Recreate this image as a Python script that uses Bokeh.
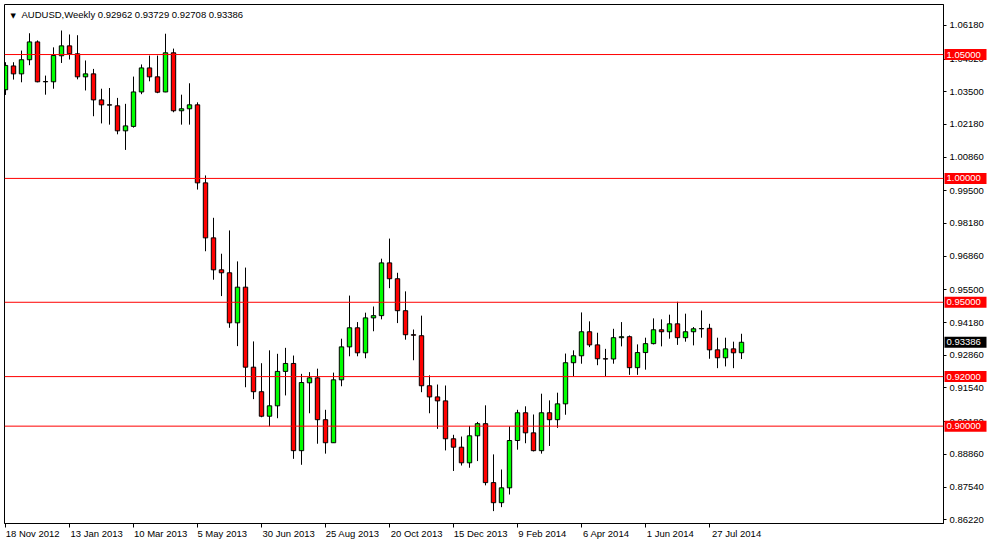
from bokeh.plotting import figure
from bokeh.models import (Range1d, LinearAxis, FixedTicker, NumeralTickFormatter,
                          Span, Label, ColumnDataSource)
from bokeh.core.properties import value
from bokeh.embed import file_html
from bokeh.resources import INLINE

# ---------------- data (AUDUSD weekly) ----------------
symbol = "AUDUSD,Weekly"
opens = [1.0358, 1.0454, 1.0422, 1.0479, 1.0551, 1.0391, 1.0390, 1.0495, 1.0535, 1.0503,
         1.0410, 1.0422, 1.0317, 1.0297, 1.0293, 1.0192, 1.0210, 1.0349, 1.0446, 1.0410,
         1.0349, 1.0507, 1.0273, 1.0281, 1.0297, 0.9982, 0.9760, 0.9631, 0.9619, 0.9417,
         0.9561, 0.9238, 0.9139, 0.9040, 0.9082, 0.9221, 0.9253, 0.8901, 0.9175, 0.9195,
         0.9026, 0.8933, 0.9187, 0.9320, 0.9397, 0.9296, 0.9437, 0.9446, 0.9659, 0.9595,
         0.9466, 0.9369, 0.9365, 0.9163, 0.9118, 0.9102, 0.8949, 0.8915, 0.8852, 0.8961,
         0.9010, 0.8772, 0.8691, 0.8751, 0.8942, 0.9054, 0.8973, 0.8901, 0.9054, 0.9026,
         0.9090, 0.9256, 0.9284, 0.9381, 0.9328, 0.9272, 0.9271, 0.9357, 0.9361, 0.9236,
         0.9297, 0.9333, 0.9389, 0.9381, 0.9413, 0.9357, 0.9381, 0.9393, 0.9395, 0.9308,
         0.9276, 0.9312, 0.92962]
highs = [1.0469, 1.0469, 1.0516, 1.0586, 1.0557, 1.0415, 1.0529, 1.0597, 1.0581, 1.0578,
         1.0476, 1.0442, 1.0362, 1.0365, 1.0325, 1.0301, 1.0411, 1.0460, 1.0496, 1.0496,
         1.0584, 1.0524, 1.0338, 1.0384, 1.0307, 1.0012, 0.9841, 0.9696, 0.9790, 0.9665,
         0.9640, 0.9342, 0.9254, 0.9306, 0.9292, 0.9316, 0.9285, 0.9211, 0.9218, 0.9232,
         0.9066, 0.9216, 0.9353, 0.9527, 0.9420, 0.9458, 0.9483, 0.9676, 0.9757, 0.9619,
         0.9544, 0.9390, 0.9446, 0.9205, 0.9168, 0.9164, 0.8965, 0.8958, 0.9001, 0.9017,
         0.9084, 0.8886, 0.8825, 0.8999, 0.9066, 0.9080, 0.9047, 0.9131, 0.9104, 0.9135,
         0.9293, 0.9306, 0.9459, 0.9423, 0.9377, 0.9312, 0.9393, 0.9420, 0.9366, 0.9330,
         0.9357, 0.9435, 0.9431, 0.9450, 0.9502, 0.9454, 0.9400, 0.9467, 0.9413, 0.9357,
         0.9357, 0.9341, 0.93729]
lows = [1.0337, 1.0399, 1.0388, 1.0457, 1.0388, 1.0338, 1.0362, 1.0466, 1.0480, 1.0400,
        1.0355, 1.0251, 1.0222, 1.0217, 1.0178, 1.0115, 1.0205, 1.0340, 1.0392, 1.0344,
        1.0348, 1.0267, 1.0217, 1.0217, 0.9955, 0.9706, 0.9591, 0.9525, 0.9397, 0.9323,
        0.9157, 0.9109, 0.9036, 0.8999, 0.9032, 0.9124, 0.8868, 0.8844, 0.9052, 0.8929,
        0.8889, 0.8932, 0.9161, 0.9282, 0.9282, 0.9274, 0.9383, 0.9431, 0.9557, 0.9416,
        0.9349, 0.9266, 0.9137, 0.9052, 0.8989, 0.8902, 0.8819, 0.8841, 0.8832, 0.8859,
        0.8761, 0.8657, 0.8673, 0.8724, 0.8905, 0.8931, 0.8898, 0.8889, 0.8920, 0.8993,
        0.9046, 0.9201, 0.9252, 0.9319, 0.9246, 0.9201, 0.9252, 0.9322, 0.9207, 0.9207,
        0.9228, 0.9330, 0.9322, 0.9353, 0.9328, 0.9341, 0.9326, 0.9357, 0.9272, 0.9234,
        0.9241, 0.9234, 0.92708]
closes = [1.0456, 1.0422, 1.0479, 1.0551, 1.0390, 1.0390, 1.0496, 1.0535, 1.0503, 1.0410,
          1.0422, 1.0317, 1.0297, 1.0296, 1.0192, 1.0212, 1.0349, 1.0446, 1.0410, 1.0348,
          1.0507, 1.0273, 1.0281, 1.0297, 0.9982, 0.9760, 0.9631, 0.9619, 0.9417, 0.9561,
          0.9238, 0.9139, 0.9040, 0.9082, 0.9221, 0.9253, 0.8901, 0.9176, 0.9195, 0.9026,
          0.8933, 0.9187, 0.9320, 0.9397, 0.9296, 0.9437, 0.9446, 0.9659, 0.9595, 0.9466,
          0.9369, 0.9367, 0.9163, 0.9118, 0.9102, 0.8949, 0.8915, 0.8852, 0.8961, 0.9010,
          0.8772, 0.8691, 0.8751, 0.8942, 0.9054, 0.8973, 0.8901, 0.9054, 0.9026, 0.9090,
          0.9256, 0.9284, 0.9381, 0.9328, 0.9272, 0.9271, 0.9357, 0.9361, 0.9236, 0.9297,
          0.9333, 0.9389, 0.9381, 0.9413, 0.9357, 0.9381, 0.9393, 0.9394, 0.9308, 0.9276,
          0.9312, 0.9296, 0.93386]

tick_bars = [0, 8, 16, 24, 32, 40, 48, 56, 64, 72, 80, 88]
tick_labels = ["18 Nov 2012", "13 Jan 2013", "10 Mar 2013", "5 May 2013", "30 Jun 2013",
               "25 Aug 2013", "20 Oct 2013", "15 Dec 2013", "9 Feb 2014", "6 Apr 2014",
               "1 Jun 2014", "27 Jul 2014"]
price_ticks = [1.0618, 1.0482, 1.0350, 1.0218, 1.0086, 0.9950, 0.9818, 0.9686,
               0.9550, 0.9418, 0.9286, 0.9154, 0.9018, 0.8886, 0.8754, 0.8622]
levels = [1.05, 1.00, 0.95, 0.92, 0.90]

# ---------------- styling ----------------
FONT = "Liberation Sans"
FS = "9.5px"
UP, DOWN = "#00FF00", "#FF0000"
W, H = 988, 543
MB_L, MB_R, MB_T, MB_B = 4, 45, 4, 20
FRAME_W = W - MB_L - MB_R
X0, X1 = -0.125, 117.25
Y0, Y1 = 0.8607, 1.0702
px_per_bar = FRAME_W / (X1 - X0)

n = len(opens)
xs = list(range(n))
src = ColumnDataSource(dict(
    x=xs, open=opens, high=highs, low=lows, close=closes,
    top=[max(o, c) for o, c in zip(opens, closes)],
    bottom=[min(o, c) for o, c in zip(opens, closes)],
    color=[UP if c >= o else DOWN for o, c in zip(opens, closes)],
))

p = figure(width=W, height=H, output_backend="svg", toolbar_location=None,
           x_range=Range1d(X0, X1), y_range=Range1d(Y0, Y1),
           x_axis_location=None, y_axis_location=None,
           min_border_left=MB_L, min_border_right=MB_R, min_border_top=MB_T,
           min_border_bottom=MB_B)
p.grid.visible = False
p.outline_line_color = "black"
p.outline_line_width = 1
p.background_fill_color = "white"
p.border_fill_color = "white"

# candles
p.segment(x0="x", y0="low", x1="x", y1="high", source=src, line_color="black", line_width=1)
p.vbar(x="x", top="top", bottom="bottom", width=0.55, source=src,
       fill_color="color", line_color="black", line_width=1)

# horizontal levels
for lv in levels:
    p.add_layout(Span(location=lv, dimension="width", line_color="#FF0000", line_width=1))

# right price axis
yax = LinearAxis(ticker=FixedTicker(ticks=price_ticks),
                 formatter=NumeralTickFormatter(format="0.00000"))
yax.major_tick_out = 3
yax.major_tick_in = 0
yax.minor_tick_out = 0
yax.minor_tick_in = 0
yax.major_label_standoff = 3
yax.major_label_text_font = FONT
yax.major_label_text_font_size = FS
yax.major_label_text_color = "black"
yax.axis_line_color = "black"
p.add_layout(yax, "right")

# bottom time axis: tick marks (minor) at the bars, labels written to the right of them
label_pos = [b + (1 + 0.5 * len(t) * 4.75) / px_per_bar for b, t in zip(tick_bars, tick_labels)]
xax = LinearAxis(ticker=FixedTicker(ticks=label_pos, minor_ticks=tick_bars))
xax.major_label_overrides = {pos: t for pos, t in zip(label_pos, tick_labels)}
xax.major_tick_out = 0
xax.major_tick_in = 0
xax.minor_tick_out = 4
xax.minor_tick_in = 0
xax.minor_tick_line_color = "black"
xax.axis_line_color = "black"
xax.major_label_standoff = 0
xax.major_label_text_font = FONT
xax.major_label_text_font_size = FS
xax.major_label_text_color = "black"
p.add_layout(xax, "below")

# price tags for the horizontal levels and the last close, in the right margin
tag_prices = levels + [closes[-1]]
tag_src = ColumnDataSource(dict(
    x=[X1 + 22 / px_per_bar] * len(tag_prices),
    xt=[X1] * len(tag_prices),
    y=tag_prices,
    text=[f"{v:.5f}" for v in tag_prices],
    fill=["#FF0000"] * len(levels) + ["black"],
))
p.rect(x="x", y="y", width=42, height=11, width_units="screen", height_units="screen",
       fill_color="fill", line_color=None, source=tag_src, level="overlay")
p.text(x="xt", y="y", text="text", x_offset=3, text_font=value(FONT),
       text_font_size=value(FS), text_color="white", text_align="left",
       text_baseline="middle", source=tag_src, level="overlay")

# header
p.add_layout(Label(x=X0, y=Y1, x_offset=6, y_offset=-7, text="\u25bc", text_font="DejaVu Sans",
                   text_font_size="7px", text_color="black", text_baseline="top"))
header = f"{symbol}  {opens[-1]:.5f} {highs[-1]:.5f} {lows[-1]:.5f} {closes[-1]:.5f}"
p.add_layout(Label(x=X0, y=Y1, x_offset=17, y_offset=-4, text=header, text_font=FONT,
                   text_font_size=FS, text_color="black", text_baseline="top"))

open("out.html", "w").write(file_html(p, INLINE))
